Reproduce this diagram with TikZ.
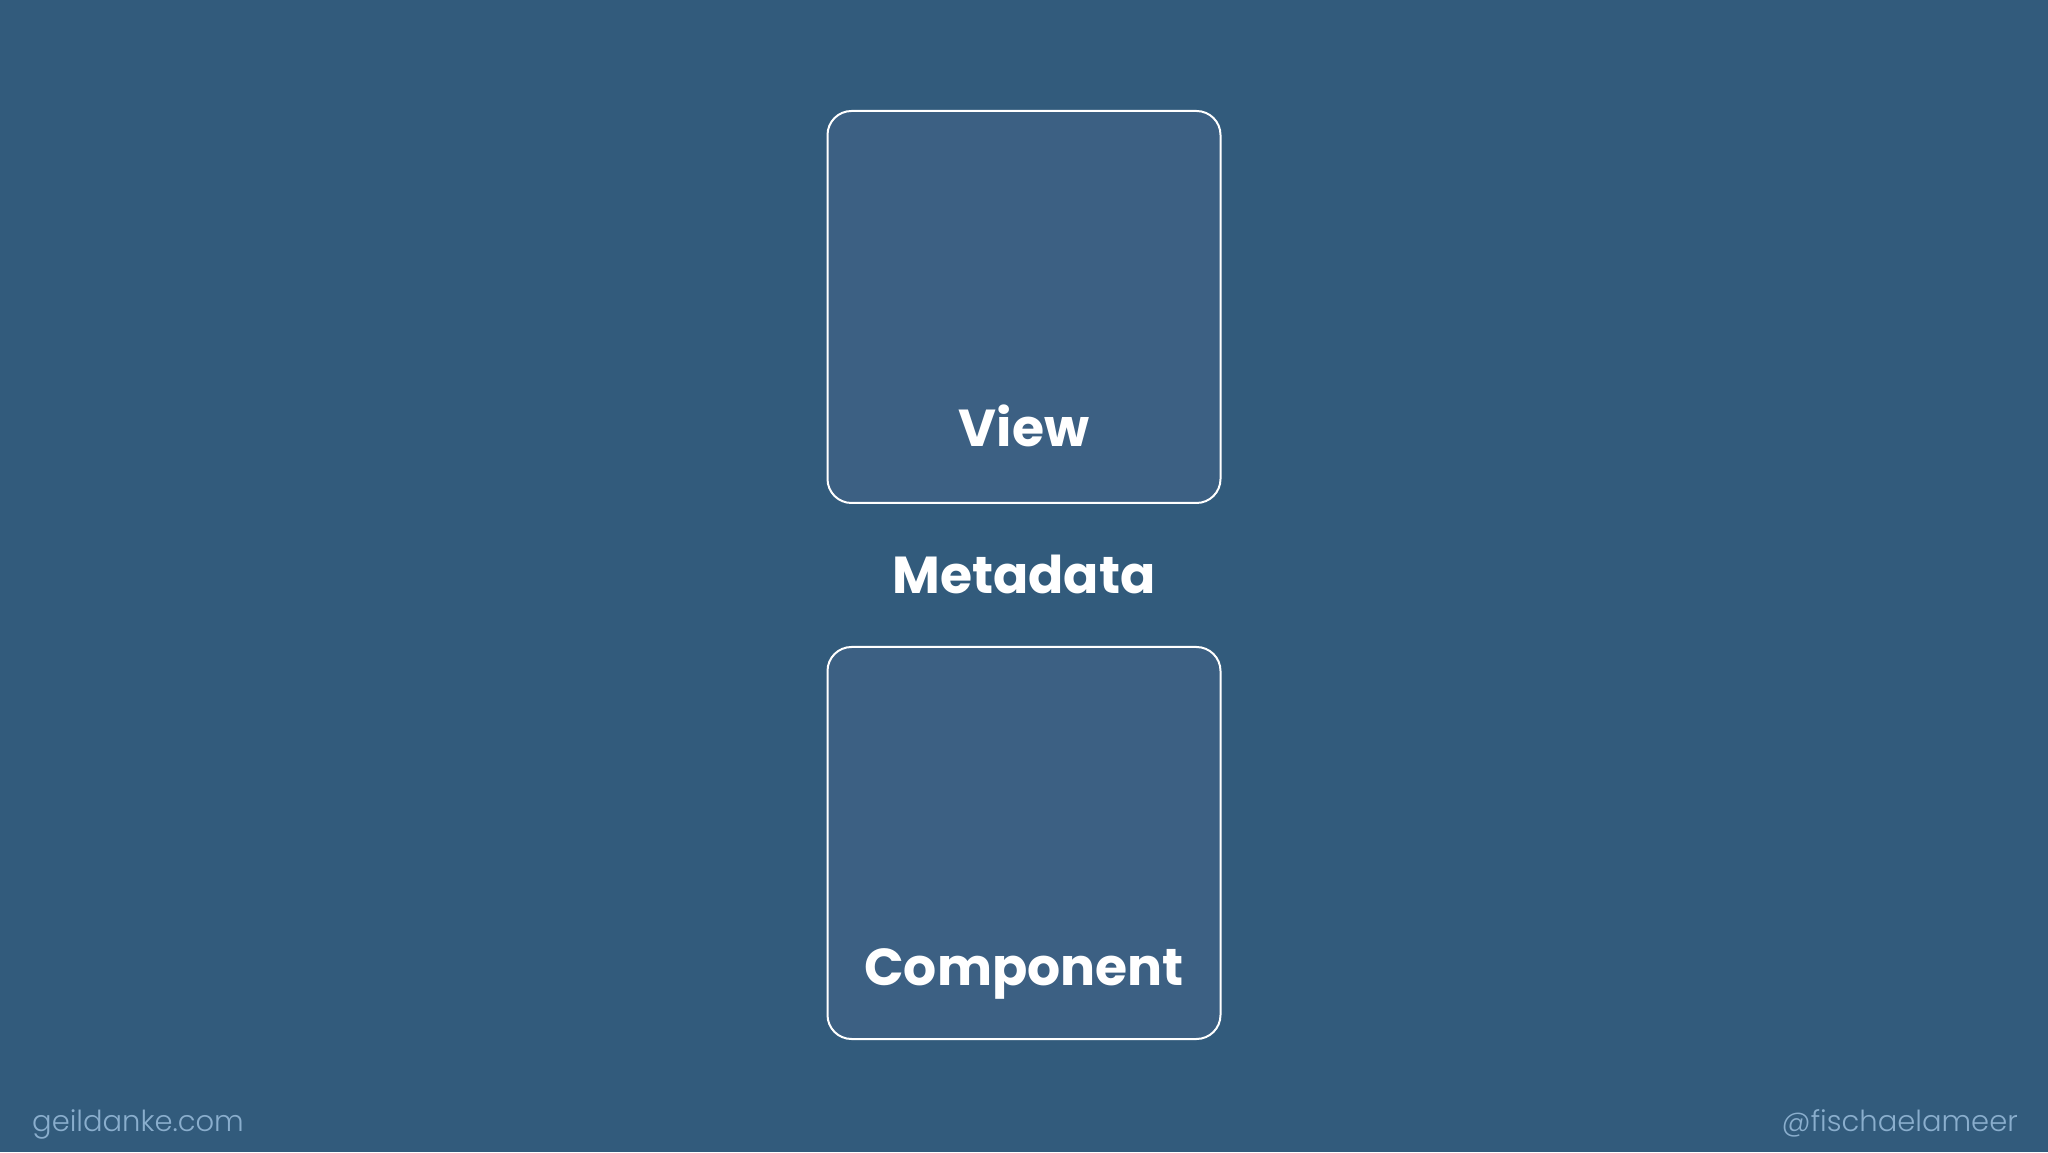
\documentclass[tikz,border=0pt]{standalone}
\usepackage{fontspec}
\setmainfont{Poppins}
\newfontfamily\footfont{Poppins}[UprightFont=* Light]
\usetikzlibrary{positioning}
\definecolor{bgblue}{HTML}{325B7C}
\definecolor{boxblue}{HTML}{3C6083}
\definecolor{footblue}{HTML}{8AAECD}
\begin{document}
\begin{tikzpicture}[x=1pt, y=1pt,
    box/.style={draw=white, line width=2pt, fill=boxblue, rounded corners=24pt,
                minimum width=393pt, minimum height=392pt, inner sep=0pt},
    title/.style={text=white, font=\fontsize{52}{58}\selectfont\bfseries, anchor=base, inner sep=0pt},
    foot/.style={text=footblue, font=\fontsize{29}{34}\footfont, anchor=base, inner sep=0pt}]
        \fill[bgblue] (0,0) rectangle (2048,1152);
        \useasboundingbox (0,0) rectangle (2048,1152);
        \node[box] (view) at (1024,845) {};
        \node[box] (comp) at (1024,309) {};
        \node[title] (viewtxt) at (1024,705) {View};
        \node[title] (meta) at (1024,558) {Metadata};
        \node[title] (comptxt) at (1024,167) {Component};
        \node[foot, anchor=base west] (site) at (32,21) {geildanke.com};
        \node[foot, anchor=base east] (handle) at (2018,21) {@fischaelameer};
    \end{tikzpicture}
\end{document}
